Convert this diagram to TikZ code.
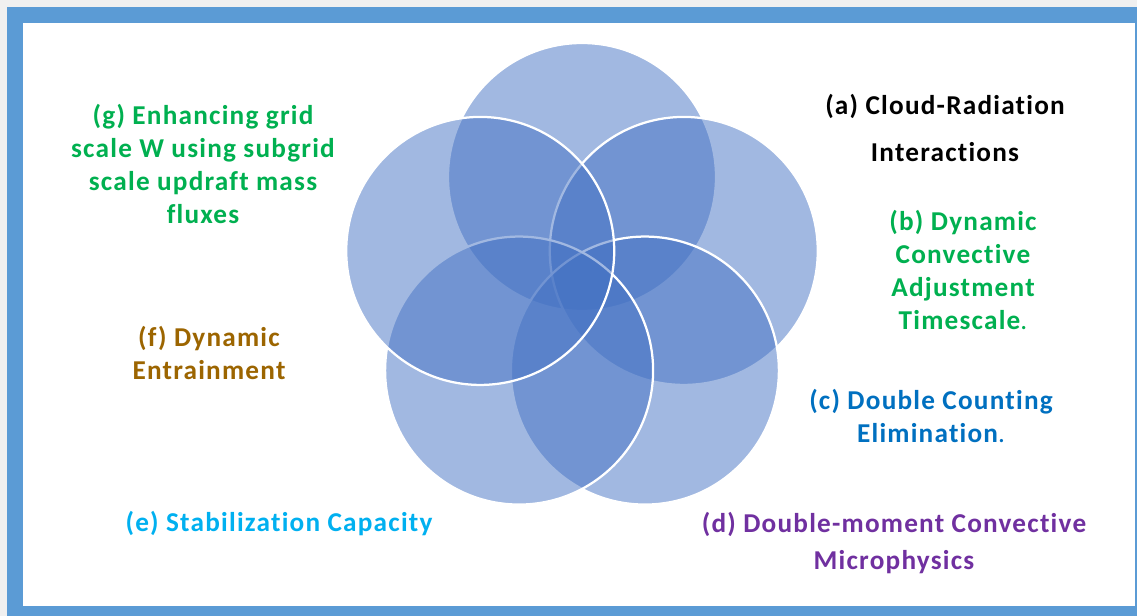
\documentclass[tikz,border=0pt]{standalone}
\usepackage{fontspec}
\setmainfont{Carlito}[LetterSpace=4.5, Ligatures=NoCommon]

\definecolor{pagegray}{HTML}{F0F0F0}
\definecolor{frameblue}{HTML}{5B9BD5}
\definecolor{petalblue}{HTML}{4472C4}
\definecolor{lblgreen}{HTML}{00B050}
\definecolor{lblblue}{HTML}{0070C0}
\definecolor{lblpurple}{HTML}{7030A0}
\definecolor{lblcyan}{HTML}{00B0F0}
\definecolor{lblbrown}{HTML}{9C6500}

\tikzset{
	petal/.style = {fill = petalblue, fill opacity = 0.5, draw = white, draw opacity = 1, line width = 0.45mm},
	label/.style = {align = center, font = \fontsize{15.5}{18.8}\selectfont\bfseries}
}

\begin{document}
\begin{tikzpicture}[x = 0.2mm, y = -0.2mm]

	% Page and frame
	
	\useasboundingbox (0, 0) rectangle (1137, 616);
	\fill [pagegray] (0, 0) rectangle (1137, 616);
	\fill [frameblue] (7, 7) rectangle (1137, 616);
	\fill [white] (23, 23) rectangle (1135, 606);
	
	% Five overlapping circles, clockwise from the top
	
	\coordinate (hub) at (582, 284);
	\foreach \ang in {-90, -18, 54, 126, 198}
		\draw [petal] (hub) ++(\ang:107) circle (134);
	
	% Labels
	
	\node [label] (cloud) at (945, 128) {(a) Cloud-Radiation\\[8.5pt] Interactions};
	\node [label, lblgreen] (adjust) at (963, 270) {(b) Dynamic\\ Convective\\ Adjustment\\ Timescale{\mdseries .}};
	\node [label, lblblue] (counting) at (931, 416) {(c) Double Counting\\ Elimination{\mdseries .}};
	\node [label, lblpurple] (micro) at (894, 543) {(d) Double-moment Convective\\[2pt] Microphysics};
	\node [label, lblcyan] (stab) at (279, 524) {(e) Stabilization Capacity};
	\node [label, lblbrown] (entrain) at (209, 353) {(f) Dynamic\\ Entrainment};
	\node [label, lblgreen] (gridw) at (203, 164) {(g) Enhancing grid\\ scale W using subgrid\\ scale updraft mass\\ fluxes};

\end{tikzpicture}
\end{document}
